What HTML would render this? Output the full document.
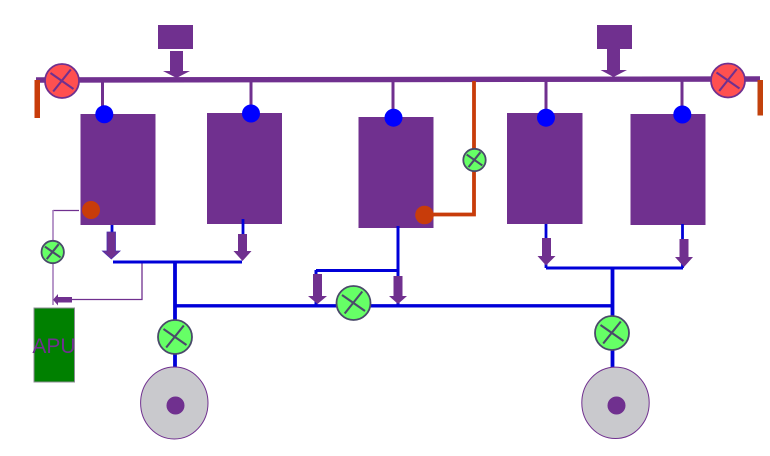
<!DOCTYPE html>
<html>
<head>
<meta charset="utf-8">
<style>
html,body{margin:0;padding:0;background:#fff;}
svg{display:block;}
</style>
</head>
<body>
<svg width="770" height="456" viewBox="0 0 770 456" xmlns="http://www.w3.org/2000/svg">
<defs>
<g id="x"><path d="M-11.500,-8 L11.500,8 M-8.800,10.500 L8.800,-11.500" fill="none" stroke-width="2.100" vector-effect="non-scaling-stroke"/></g>
</defs>
<rect width="770" height="456" fill="#fff"/>

<!-- top bus -->
<path d="M36,80 L760,79" stroke="#70308f" stroke-width="5.400" fill="none"/>
<rect x="34.500" y="80" width="5.500" height="38" fill="#c83c0a"/>
<rect x="757.500" y="80" width="5.500" height="35.500" fill="#c2410c"/>

<!-- top boxes and arrows -->
<g fill="#70308f">
<rect x="158" y="25" width="35" height="24"/>
<path d="M170,51 H183 V71 H190 L176.500,78 L163,71 H170 Z"/>
<rect x="597" y="25" width="35" height="24"/>
<path d="M607,49 H620 V70 H627 L613.500,77 L600.500,70 H607 Z"/>
</g>

<!-- stems to tanks -->
<g stroke="#70308f" stroke-width="3" fill="none">
<path d="M102.500,81 V110"/>
<path d="M251,81 V108"/>
<path d="M393,81 V112"/>
<path d="M546,81 V112"/>
<path d="M682,81 V110"/>
</g>

<!-- tanks -->
<g fill="#70308f">
<rect x="80.500" y="114" width="75" height="111"/>
<rect x="207" y="113" width="75" height="111"/>
<rect x="358.500" y="117" width="75" height="111"/>
<rect x="507" y="113" width="75.500" height="111"/>
<rect x="630.500" y="114" width="75" height="111"/>
</g>

<!-- blue circles -->
<g fill="#0000ff">
<circle cx="104.300" cy="114.300" r="9"/>
<circle cx="251" cy="113.500" r="9"/>
<circle cx="393.500" cy="117.700" r="9"/>
<circle cx="546" cy="117.700" r="9"/>
<circle cx="682.300" cy="114.500" r="9"/>
</g>

<!-- orange -->
<path d="M474,81 V214.500 H428" stroke="#c83c0a" stroke-width="3.800" fill="none"/>
<circle cx="424.500" cy="215" r="9.300" fill="#c83c0a"/>
<circle cx="91" cy="210" r="9" fill="#c83c0a"/>

<!-- thin lines -->
<path d="M79,210.500 H53" stroke="#70308f" stroke-width="1.300" fill="none"/>
<path d="M53,210 V305" stroke="#a67fbc" stroke-width="1.600" fill="none"/>
<path d="M142,262 V299.500 H70" stroke="#70308f" stroke-width="1.300" fill="none"/>
<path d="M72,297 V302.500 H58 V305.500 L53,299.700 L58,294 V297 Z" fill="#70308f"/>

<!-- blue network -->
<g stroke="#0000d8" fill="none">
<path d="M112,225 V233" stroke-width="2.800"/>
<path d="M243,219 V234" stroke-width="2.800"/>
<path d="M113,262 H242" stroke-width="3"/>
<path d="M175,262 V367" stroke-width="3.800"/>
<path d="M175,305.800 H612" stroke-width="3.400"/>
<path d="M398,226 V305" stroke-width="3"/>
<path d="M316,270.500 H398" stroke-width="3"/>
<path d="M316,270 V305" stroke-width="3"/>
<path d="M546,224 V268" stroke-width="2.800"/>
<path d="M682.500,224 V268" stroke-width="2.800"/>
<path d="M546,268 H683" stroke-width="3"/>
<path d="M612.500,268 V367" stroke-width="3.800"/>
</g>

<!-- lower arrows -->
<g fill="#70308f">
<path d="M107,232 H115.500 V251 H120 L111.300,259 L102.500,251 H107 Z" stroke="#4a2fb0" stroke-width="0.800"/>
<path d="M238,234 H247 V251 H251.500 L242.500,261 L233.500,251 H238 Z"/>
<path d="M313,274 H322 V296 H327 L317.500,304 L308,296 H313 Z"/>
<path d="M393.500,276 H402.500 V296 H407 L398,304 L389,296 H393.500 Z"/>
<path d="M542,238 H551 V256 H555.500 L546,265.500 L537.500,256 H542 Z"/>
<path d="M679.500,239 H688.500 V257 H693 L684,267 L675,257 H679.500 Z"/>
</g>

<!-- red valves -->
<g fill="#ff5050" stroke="#70308f" stroke-width="1.800">
<circle cx="62" cy="81" r="17"/>
<circle cx="728" cy="80.500" r="17"/>
</g>
<g stroke="#70308f">
<use href="#x" x="62" y="81"/>
<use href="#x" x="728" y="80.500"/>
</g>

<!-- green valves -->
<g fill="#66ff66" stroke="#4a4a6a" stroke-width="1.800">
<circle cx="175" cy="337" r="17"/>
<circle cx="612" cy="333" r="17"/>
<circle cx="353.500" cy="303" r="17"/>
<circle cx="474.500" cy="160" r="11.200"/>
<circle cx="52.700" cy="252" r="11.200"/>
</g>
<g stroke="#4a4a6a">
<use href="#x" x="175" y="337"/>
<use href="#x" x="612" y="333"/>
<use href="#x" x="353.500" y="303"/>
<use href="#x" transform="translate(474.500 160) scale(0.68)"/>
<use href="#x" transform="translate(52.700 252) scale(0.68)"/>
</g>

<!-- wheels -->
<g fill="#c9c9cd" stroke="#70308f" stroke-width="1">
<ellipse cx="174.300" cy="403" rx="33.700" ry="36"/>
<ellipse cx="615.500" cy="402.800" rx="33.700" ry="35.700"/>
</g>
<circle cx="175.500" cy="405.500" r="9" fill="#70308f"/>
<circle cx="616.500" cy="405.500" r="9" fill="#70308f"/>

<!-- APU -->
<rect x="34" y="308" width="40.500" height="74" fill="#008000" stroke="#8c8c94" stroke-width="1"/>
<text x="54" y="353" font-family="'Liberation Sans',sans-serif" font-size="21" fill="#70308f" text-anchor="middle">APU</text>
</svg>
</body>
</html>
